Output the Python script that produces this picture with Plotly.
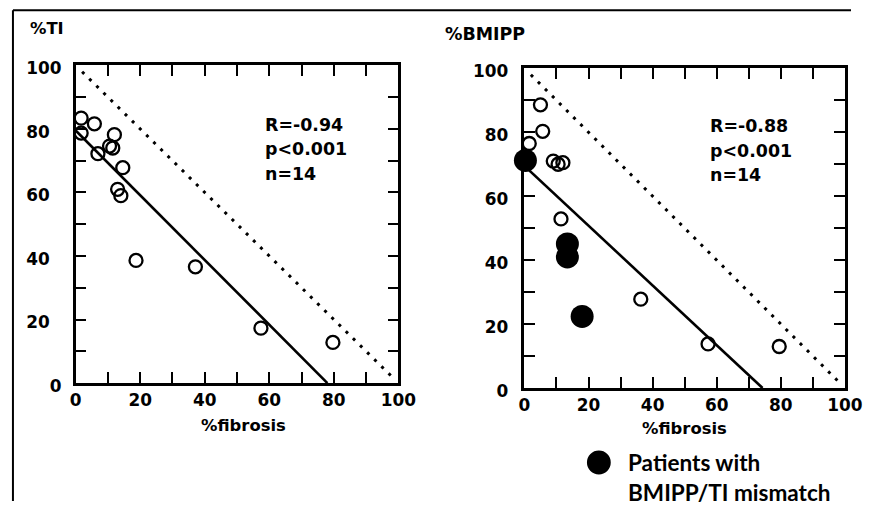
import plotly.graph_objects as go

W, H = 869, 514

# ---------------- data ----------------
# Left panel: %TI vs %fibrosis
ti_fibrosis = [1.7, 5.8, 1.7, 12.0, 10.5, 11.5, 6.9, 14.6, 13.0, 14.0, 18.7, 37.1, 57.4, 79.7]
ti_uptake = [83.4, 81.6, 78.7, 78.2, 74.6, 74.0, 72.2, 67.8, 61.0, 59.0, 38.6, 36.6, 17.3, 12.8]

# Right panel: %BMIPP vs %fibrosis
bm_open_fibrosis = [5.0, 5.7, 1.5, 9.0, 10.5, 12.0, 11.4, 36.3, 57.3, 79.5]
bm_open_uptake = [88.6, 80.3, 76.5, 71.0, 70.0, 70.5, 52.9, 27.8, 13.8, 13.0]
bm_mismatch_fibrosis = [0.3, 13.4, 13.4, 18.0]
bm_mismatch_uptake = [71.2, 45.1, 41.0, 22.4]

# regression lines (end points)
ti_fit_x = [0, 78.0]
ti_fit_y = [79.5, 0]
bm_fit_x = [0, 74.3]
bm_fit_y = [69.5, 0]

# line of identity (dotted)
identity_x = [2, 98]
identity_y = [98, 2]

tick_vals = [0, 10, 20, 30, 40, 50, 60, 70, 80, 90, 100]
x_tick_text = ["0", "", "20", "", "40", "", "60", "", "80", "", "100"]
y_tick_text_left = ["0", "", "20\u00a0\u00a0", "", "40\u00a0\u00a0", "", "60\u00a0\u00a0", "",
                    "80\u00a0\u00a0", "", "100"]
y_tick_text_right = ["0", "", "20", "", "40", "", "60", "", "80", "", "100"]

stats_left = ["R=-0.94", "p<0.001", "n=14"]
stats_right = ["R=-0.88", "p<0.001", "n=14"]
x_title = "%fibrosis"
legend_lines = ["Patients with", "BMIPP/TI mismatch"]

# ---------------- placement helpers (screen pixels -> paper fractions) ----------------
SX, OX = 0.98, 2.5
SY, OY = 0.968, 8.2


def fx(X):
    return (X - OX) / SX / W


def fy(Y):
    return 1 - (Y - OY) / SY / H


K = 1.025  # font compensation

fig = go.Figure()

open_marker = dict(symbol="circle-open", size=13, color="black", line=dict(width=2.3, color="black"))
dot_line = dict(color="black", width=3, dash="3px,7px")
fit_line = dict(color="black", width=2.6)

# left panel
fig.add_trace(go.Scatter(x=identity_x, y=identity_y, mode="lines", line=dot_line,
                         xaxis="x", yaxis="y", showlegend=False, hoverinfo="skip"))
fig.add_trace(go.Scatter(x=ti_fit_x, y=ti_fit_y, mode="lines", line=fit_line,
                         xaxis="x", yaxis="y", showlegend=False, hoverinfo="skip"))
fig.add_trace(go.Scatter(x=ti_fibrosis, y=ti_uptake, mode="markers", marker=open_marker,
                         cliponaxis=False, xaxis="x", yaxis="y", showlegend=False))

# right panel
fig.add_trace(go.Scatter(x=identity_x, y=identity_y, mode="lines", line=dot_line,
                         xaxis="x2", yaxis="y2", showlegend=False, hoverinfo="skip"))
fig.add_trace(go.Scatter(x=bm_fit_x, y=bm_fit_y, mode="lines", line=fit_line,
                         xaxis="x2", yaxis="y2", showlegend=False, hoverinfo="skip"))
fig.add_trace(go.Scatter(x=bm_open_fibrosis, y=bm_open_uptake, mode="markers", marker=open_marker,
                         cliponaxis=False, xaxis="x2", yaxis="y2", showlegend=False))
fig.add_trace(go.Scatter(x=bm_mismatch_fibrosis, y=bm_mismatch_uptake, mode="markers",
                         marker=dict(symbol="circle", size=23, color="black"),
                         cliponaxis=False, xaxis="x2", yaxis="y2", showlegend=False))

tick_font = dict(family="DejaVu Sans", size=16.5 * K, color="black", weight="bold")


def axis_common():
    return dict(range=[0, 100], showline=True, linewidth=2.6, linecolor="black",
                mirror="ticks", ticks="inside", ticklen=11, tickwidth=2.2, tickcolor="black",
                tickmode="array", tickvals=tick_vals, showgrid=False, zeroline=False,
                tickfont=tick_font, fixedrange=True)


fig.update_layout(
    width=W, height=H,
    margin=dict(l=0, r=0, t=0, b=0),
    paper_bgcolor="white", plot_bgcolor="white",
    xaxis=dict(domain=[fx(72.7), fx(398)], anchor="y", ticktext=x_tick_text, **axis_common()),
    yaxis=dict(domain=[fy(387), fy(67)], anchor="x", ticktext=y_tick_text_left,
               ticklabelstandoff=8, ticklabelshift=3, **axis_common()),
    xaxis2=dict(domain=[fx(525), fx(848)], anchor="y2", ticktext=x_tick_text, **axis_common()),
    yaxis2=dict(domain=[fy(392), fy(70)], anchor="x2", ticktext=y_tick_text_right,
                ticklabelstandoff=10, ticklabelshift=3, **axis_common()),
)

ann = []


def px_text(text, X, Y, size, weight="normal", family="DejaVu Sans", xanchor="left"):
    ann.append(dict(text=text, x=fx(X), y=fy(Y), xref="paper", yref="paper",
                    xanchor=xanchor, yanchor="middle", showarrow=False,
                    font=dict(family=family, size=size * K, color="black", weight=weight)))


px_text("%TI", 25, 30, 16, "bold")
px_text("%BMIPP", 443, 35, 17, "bold")
px_text(x_title, 241.5, 430, 16, "bold", xanchor="center")
px_text(x_title, 686, 433, 16, "bold", xanchor="center")
for t, yy in zip(stats_left, [127, 151, 176]):
    px_text(t, 262, yy, 17, "bold")
for t, yy in zip(stats_right, [128, 153, 177]):
    px_text(t, 710, yy, 17, "bold")

# legend
px_text(legend_lines[0], 627, 467, 22, "bold", family="Lato")
px_text(legend_lines[1], 627, 497, 22, "bold", family="Lato")
fig.update_layout(annotations=ann)

shapes = [
    # outer frame (top and left edges)
    dict(type="line", xref="paper", yref="paper", x0=fx(9.5), x1=1, y0=fy(11.5), y1=fy(11.5),
         line=dict(color="black", width=2)),
    dict(type="line", xref="paper", yref="paper", x0=fx(9.5), x1=fx(9.5), y0=0, y1=fy(11.5),
         line=dict(color="black", width=2)),
    # legend symbol
    dict(type="circle", xref="paper", yref="paper", x0=fx(588), x1=fx(612),
         y0=fy(479), y1=fy(455), fillcolor="black", line=dict(color="black", width=0)),
]
fig.update_layout(shapes=shapes)

fig.write_html("out.html", config={"displayModeBar": False},
               post_script="document.body.style.margin='0';document.body.style.overflow='hidden';")
